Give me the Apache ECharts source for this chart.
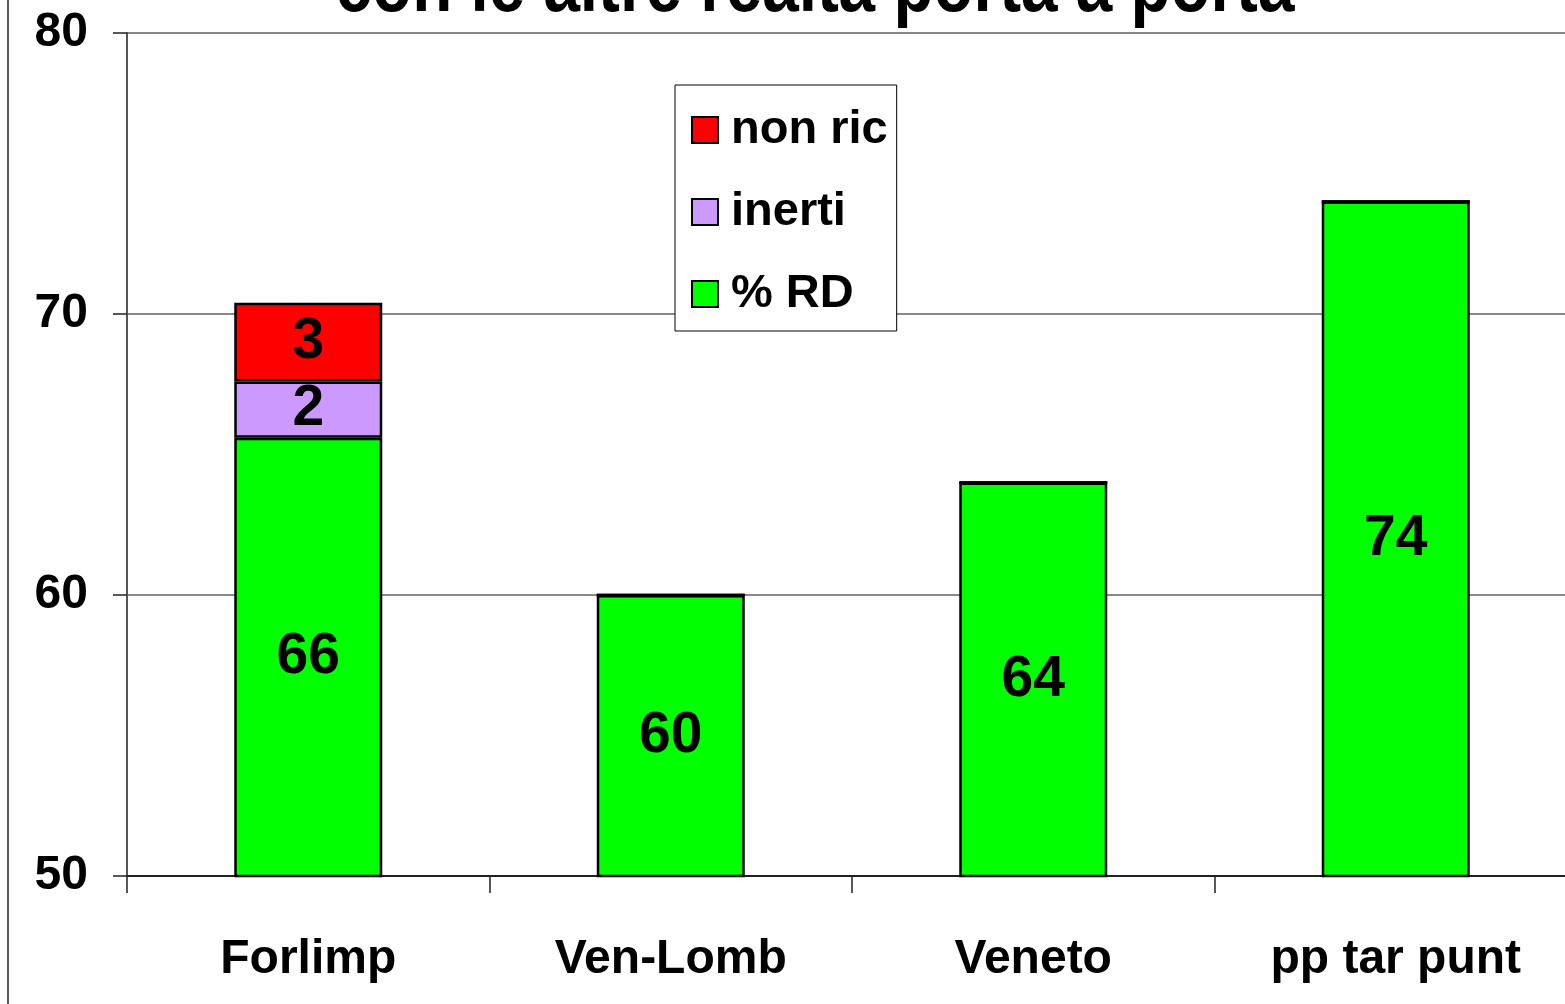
<!DOCTYPE html>
<html>
<head>
<meta charset="utf-8">
<script src="https://cdn.jsdelivr.net/npm/echarts@6/dist/echarts.min.js"></script>
<style>
  html, body { margin: 0; padding: 0; overflow: hidden; background: #fff; }
  #main { width: 1580px; height: 1004px; }
</style>
</head>
<body>
<div id="main"></div>
<script>
var categories = ['Forlimp', 'Ven-Lomb', 'Veneto', 'pp tar punt']
var rdValues = [65.6, 60, 64, 74]       // % RD
var inertiValues = [2.0, 0, 0, 0]       // inerti
var nonRicValues = [2.8, 0, 0, 0]       // non ric
var yTicks = [50, 60, 70, 80]

// no narrow font installed, so sizes are a bit smaller to keep widths close
var FONT = "'Liberation Sans Narrow', 'Liberation Sans', 'DejaVu Sans', sans-serif"

var chart = echarts.init(document.getElementById('main'))

function roundLabel(p) {
  if (!p.value) return ''
  return Math.round(p.value)
}

var labelStyle = {
  show: true,
  position: 'inside',
  formatter: roundLabel,
  color: '#000',
  fontFamily: FONT,
  fontWeight: 'bold',
  fontSize: 57,
}

var option = {
  animation: false,
  backgroundColor: '#fff',
  graphic: [
    {
      type: 'text',
      x: 815,
      y: -11,
      scaleX: 0.82,
      style: {
        text: 'con le altre realtà porta a porta',
        fontFamily: FONT,
        fontWeight: 'bold',
        fontSize: 80,
        fill: '#000',
        textAlign: 'center',
        textVerticalAlign: 'middle',
      },
    },
    {
      type: 'line',
      shape: { x1: 8, y1: 0, x2: 8, y2: 1004 },
      style: { stroke: '#222', lineWidth: 1.5 },
    },
  ],
  legend: {
    data: ['non ric', 'inerti', '% RD'],
    orient: 'vertical',
    left: 675,
    top: 85,
    padding: [15, 9, 7, 16],
    itemGap: 22,
    itemWidth: 26,
    itemHeight: 26,
    icon: 'rect',
    backgroundColor: '#fff',
    borderColor: '#000',
    borderWidth: 1,
    textStyle: {
      color: '#000',
      fontFamily: FONT,
      fontWeight: 'bold',
      fontSize: 47,
      lineHeight: 60,
      padding: [0, 0, 0, 8],
    },
  },
  grid: {
    left: 127,
    right: 3,
    top: 33,
    bottom: 128,
  },
  xAxis: {
    type: 'category',
    data: categories,
    axisLine: { lineStyle: { color: '#222', width: 2 } },
    axisTick: { show: true, interval: 0, length: 17, lineStyle: { color: '#222', width: 1.5 } },
    axisLabel: {
      interval: 0,
      color: '#000',
      fontFamily: FONT,
      fontWeight: 'bold',
      fontSize: 48,
      lineHeight: 60,
      margin: 54,
    },
  },
  yAxis: {
    type: 'value',
    min: yTicks[0],
    max: yTicks[yTicks.length - 1],
    interval: 10,
    axisLine: { show: true, lineStyle: { color: '#555', width: 2 } },
    axisTick: { show: true, length: 14, lineStyle: { color: '#222', width: 1.5 } },
    axisLabel: {
      color: '#000',
      fontFamily: FONT,
      fontWeight: 'bold',
      fontSize: 48,
      margin: 39,
    },
    splitLine: { lineStyle: { color: '#888', width: 2 } },
  },
  series: [
    {
      name: '% RD',
      type: 'bar',
      stack: 'tot',
      barWidth: 148,
      data: rdValues,
      itemStyle: { color: '#00ff00', borderColor: '#000', borderWidth: 2.5 },
      label: labelStyle,
    },
    {
      name: 'inerti',
      type: 'bar',
      stack: 'tot',
      barWidth: 148,
      data: inertiValues,
      itemStyle: { color: '#cc99ff', borderColor: '#000', borderWidth: 2.5 },
      label: labelStyle,
    },
    {
      name: 'non ric',
      type: 'bar',
      stack: 'tot',
      barWidth: 148,
      data: nonRicValues,
      itemStyle: { color: '#ff0000', borderColor: '#000', borderWidth: 2.5 },
      label: labelStyle,
    },
  ],
}

chart.setOption(option)
</script>
</body>
</html>
